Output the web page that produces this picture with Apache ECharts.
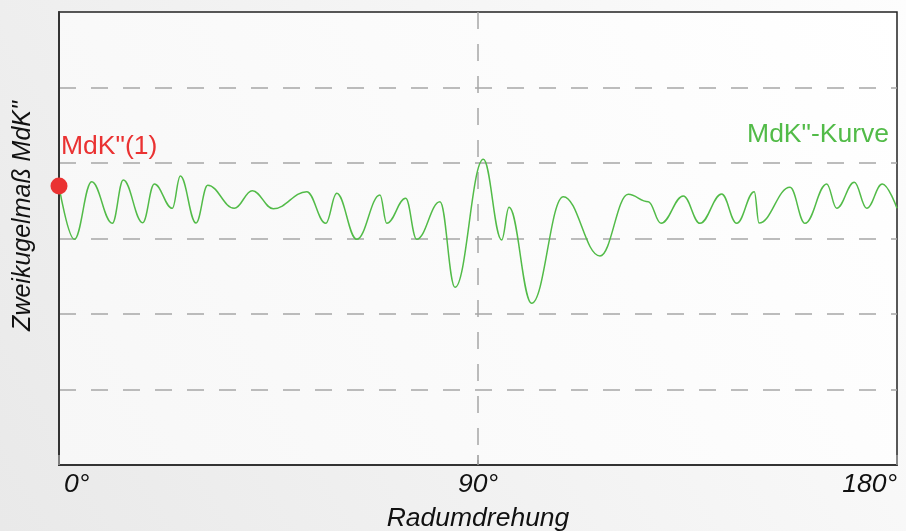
<!DOCTYPE html>
<html>
<head>
<meta charset="utf-8">
<script src="https://cdn.jsdelivr.net/npm/echarts@6/dist/echarts.min.js"></script>
<style>
html,body{margin:0;padding:0;background:#f2f2f2;}
#chart{width:906px;height:531px;}
</style>
</head>
<body>
<div id="chart"></div>
<script>
// Rotation angle (degrees) of each turning point of the curve
const curveAngles = [0, 3.29, 7.02, 11.45, 13.81, 17.98, 20.47, 24.34, 26.06, 29.43,
  31.94, 37.65, 41.52, 46.03, 53.21, 57.29, 59.65, 63.95, 68.95, 70.39,
  74.47, 76.83, 81.84, 85.06, 91.14, 95.09, 96.66, 101.53, 108.32, 116.2,
  122.28, 126.58, 129.31, 134.1, 137.68, 142.34, 145.56, 149.35, 150.36, 157.02,
  160.24, 164.9, 167.05, 170.83, 173.49, 176.84, 180];
// MdK'' values (axis units, 0..6)
const curveValues = [3.695, 2.989, 3.752, 3.201, 3.775, 3.209, 3.722, 3.4, 3.828, 3.205,
  3.705, 3.4, 3.633, 3.395, 3.62, 3.201, 3.599, 2.989, 3.576, 3.201,
  3.532, 2.989, 3.487, 2.354, 4.049, 2.98, 3.413, 2.142, 3.554, 2.768,
  3.585, 3.487, 3.201, 3.563, 3.201, 3.589, 3.201, 3.62, 3.205, 3.678,
  3.201, 3.722, 3.4, 3.744, 3.4, 3.722, 3.4];
const startPoint = [0, 3.695];
const xTicks = {0: '0°', 90: '90°', 180: '180°'};
const xName = 'Radumdrehung';
const yName = 'Zweikugelmaß MdK"';
const startLabel = 'MdK"(1)';
const curveLabel = 'MdK"-Kurve';

const curveData = curveAngles.map((a, i) => [a, curveValues[i]]);
const chart = echarts.init(document.getElementById('chart'));
const FONT = '"Liberation Sans", Arial, sans-serif';
chart.setOption({
  animation: false,
  backgroundColor: new echarts.graphic.LinearGradient(1, 0, 0, 1, [
    {offset: 0, color: '#fdfdfd'}, {offset: 1, color: '#e9e9e9'}
  ]),
  grid: {
    left: 59, right: 9, top: 12, bottom: 66,
    outerBoundsMode: 'none', containLabel: false,
    show: true, borderColor: '#222', borderWidth: 1.5,
    backgroundColor: new echarts.graphic.LinearGradient(1, 0, 0, 1, [
      {offset: 0, color: '#ffffff'}, {offset: 1, color: '#f7f7f7'}
    ])
  },
  xAxis: {
    type: 'value', min: 0, max: 180, interval: 90,
    name: xName, nameLocation: 'middle', nameGap: 40,
    nameTextStyle: {fontFamily: FONT, fontStyle: 'italic', fontSize: 26.5, color: '#111'},
    axisLine: {show: true, lineStyle: {color: '#333', width: 2}},
    axisTick: {show: true, inside: true, length: 10, lineStyle: {color: '#999', width: 1.5}},
    axisLabel: {
      formatter: v => v === 0 ? '{first|' + xTicks[v] + '}' : (xTicks[v] || ''),
      fontFamily: FONT, fontStyle: 'italic',
      fontSize: 26.5, color: '#111', margin: 6,
      alignMinLabel: 'left', alignMaxLabel: 'right',
      rich: {first: {fontFamily: FONT, fontStyle: 'italic', fontSize: 26.5, color: '#111', padding: [0, 0, 0, 5]}}
    },
    splitLine: {show: true, showMinLine: false, showMaxLine: false,
      lineStyle: {color: '#a6a6a6', width: 1.5, type: [17, 15]}}
  },
  yAxis: {
    type: 'value', min: 0, max: 6, interval: 1,
    axisLine: {show: true, lineStyle: {color: '#333', width: 2}},
    axisTick: {show: false},
    axisLabel: {show: false},
    splitLine: {show: true, showMinLine: false, showMaxLine: false,
      lineStyle: {color: '#a6a6a6', width: 1.5, type: [17, 15]}}
  },
  series: [
    {
      type: 'line', data: curveData, smooth: 0.4, smoothMonotone: 'x',
      showSymbol: false, lineStyle: {color: '#52bb48', width: 1.5}, z: 3
    },
    {
      type: 'scatter', data: [startPoint], symbolSize: 17,
      itemStyle: {color: '#ea3232', opacity: 1}, z: 5
    }
  ],
  graphic: [
    {type: 'text', left: 61, top: 133, style: {text: startLabel, font: '26.5px ' + FONT, fill: '#ea3232'}},
    {type: 'text', right: 17, top: 121, style: {text: curveLabel, font: '26.5px ' + FONT, fill: '#52bb48'}},
    {type: 'text', x: 23, y: 216, rotation: Math.PI / 2,
      style: {text: yName, font: 'italic 25px ' + FONT, fill: '#111', align: 'center', verticalAlign: 'middle'}}
  ]
});
</script>
</body>
</html>
